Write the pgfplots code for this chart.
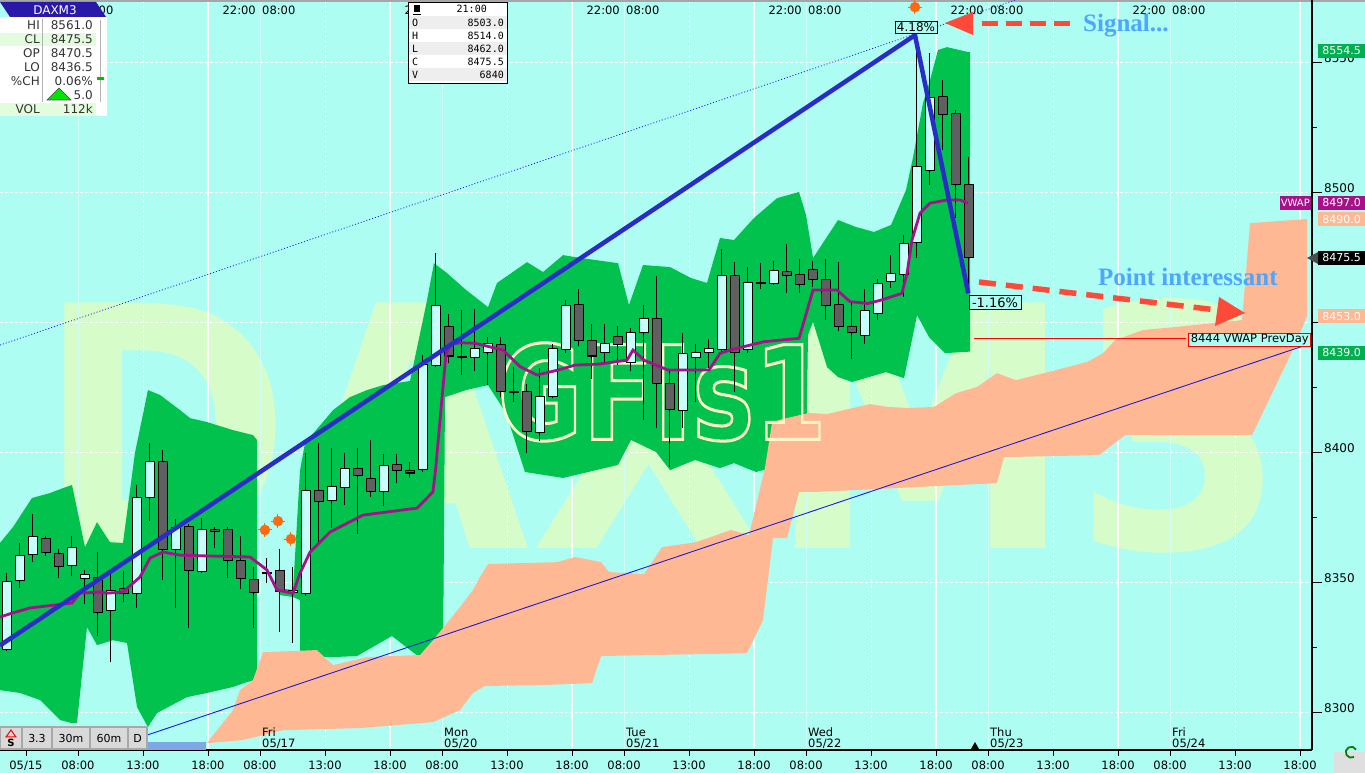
\documentclass[border=0pt]{standalone}
\usepackage{fontspec}
\setmainfont{DejaVu Sans}
\newfontfamily\serifann{Liberation Serif}
\newfontfamily\monobox{DejaVu Sans Mono}
\usepackage{graphicx}
\usepackage{pgfplots}
\usepackage{pgfplotstable}
\pgfplotsset{compat=1.18}

\definecolor{bgcyan}{HTML}{AEFDF3}
\definecolor{bandgreen}{HTML}{00C24D}
\definecolor{cloud}{HTML}{FFB894}
\definecolor{wmark}{HTML}{D6FDC9}
\definecolor{upfill}{HTML}{C8FFFA}
\definecolor{dnfill}{HTML}{606060}
\definecolor{vwapc}{HTML}{A8108A}
\definecolor{trendblue}{HTML}{2B2BC8}
\definecolor{thinblue}{HTML}{1A1AE0}
\definecolor{sigred}{HTML}{FF4A3A}
\definecolor{anncol}{HTML}{4DA6FF}
\definecolor{dotorange}{HTML}{FF6A10}
\definecolor{gfis}{HTML}{FFF6C8}
\definecolor{tagreen}{HTML}{00B050}
\definecolor{hdrblue}{HTML}{2A18A8}
\definecolor{btngray}{HTML}{D9D9D9}
\definecolor{btnborder}{HTML}{A8A8A8}
\definecolor{rowgreen}{HTML}{E4FCDE}
\definecolor{rowgray}{HTML}{EEEEEE}
\definecolor{lightbar}{HTML}{7EA8E4}

\newcommand\fs[1]{\fontsize{#1}{#1}\selectfont}

% 1 bar = 1 hour, x = hours since 05/15 08:00 (sessions 08:00-22:00 only)
\pgfplotstableread{
x o h l c
-5.5 8324.5 8354 8324 8350.5
-4.5 8351 8365.5 8348 8360.5
-3.5 8361 8376.5 8358 8367.5
-0.5 8357 8368 8352.5 8363.5
0.5 8352 8355 8342 8353
2.5 8339.5 8353.5 8319.5 8347
4.5 8346 8387.5 8340.5 8382.5
5.5 8383 8404 8374 8396.5
7.5 8363 8374.5 8340.5 8371
9.5 8354.5 8375 8354 8370.5
14.5 8354 8359.5 8350 8354
16.5 8346.5 8356 8327 8347
17.5 8346 8400 8345 8385.5
19.5 8382 8402 8371 8387
20.5 8387 8400 8380 8394
23.5 8385.5 8399.5 8379.5 8395
26.5 8394 8437.5 8392.5 8434
27.5 8434 8477 8433 8456.5
29.5 8437 8455 8430 8437
30.5 8437 8455.5 8431.5 8440
31.5 8439 8444.5 8426 8442
33.5 8423.5 8433 8419.5 8423.5
35.5 8408 8432.5 8404.5 8421.5
36.5 8422 8442 8421 8440
37.5 8440 8459 8438.5 8456.5
40.5 8439 8449.5 8434.5 8442
42.5 8435 8448 8431.5 8446
43.5 8446.5 8457 8412.5 8451.5
46.5 8416.5 8446 8409.5 8438
47.5 8437 8442 8419.5 8438.5
48.5 8439 8444 8432.5 8440
49.5 8440 8478.5 8439 8468
51.5 8440 8471.5 8438.5 8465.5
52.5 8465.5 8473 8463 8465.5
53.5 8465.5 8474 8464.5 8470
60.5 8445.5 8463 8442 8454.5
61.5 8454 8467 8451 8465
62.5 8466 8476 8463.5 8469
63.5 8469 8484 8460 8480.5
64.5 8481 8561 8475 8510
65.5 8509 8554 8503 8536.5
}\upc

\pgfplotstableread{
x o h l c
-2.5 8367 8368 8360.5 8362
-1.5 8361 8363 8352 8356.5
1.5 8352 8362 8329.5 8339
3.5 8347.5 8354.5 8342.5 8346
6.5 8396.5 8401 8351 8363
8.5 8371.5 8372.5 8332.5 8355
10.5 8370.5 8371.5 8363.5 8370
11.5 8370.5 8371.5 8352 8359
12.5 8358.5 8368 8347.5 8352
13.5 8351 8356 8332.5 8346.5
15.5 8354.5 8363 8331 8347
18.5 8385.5 8404 8364.5 8381.5
21.5 8394 8402 8369 8391.5
22.5 8390 8405 8383 8385.5
24.5 8395.5 8399.5 8388.5 8393.5
25.5 8393 8396.5 8390.5 8392.5
28.5 8448.5 8453.5 8434.5 8437.5
32.5 8441.5 8444.5 8421.5 8424
34.5 8423.5 8426.5 8400 8408.5
38.5 8457 8463 8441 8443.5
39.5 8443 8449.5 8428.5 8437.5
41.5 8444.5 8449 8434 8442
44.5 8451.5 8468 8409.5 8427
45.5 8426.5 8431.5 8394.5 8417
50.5 8468 8473.5 8423.5 8439
54.5 8469.5 8480.5 8461.5 8468.5
55.5 8468.5 8474.5 8461.5 8465
56.5 8470.5 8474 8464 8467
57.5 8466.5 8474.5 8451 8457
58.5 8457 8473.5 8447 8449
59.5 8448.5 8458 8436 8446.5
66.5 8537 8543.5 8516.5 8530.5
67.5 8530.5 8532 8490.5 8503.5
68.5 8503 8514 8462 8475.5
}\dnc

\pgfplotsset{
  chartaxis/.style={
    at={(0pt,23pt)}, anchor=south west,
    width=1312pt, height=750pt, scale only axis,
    xmin=-6, xmax=94.923, ymin=8285.77, ymax=8574.23,
  },
}
\tikzset{px/.style={x=1pt, y=-1pt, yshift=773pt}}

\begin{document}
\begin{tikzpicture}

% ---------- background, watermark, grid ----------
\begin{scope}[px]
  \fill[bgcyan] (0,0) rectangle (1365,773);
  \node[anchor=north west, inner sep=0pt, text=wmark] at (36,298)
    {\resizebox{1251pt}{250pt}{\bfseries DAXM3}};
  \foreach \yy in {63,193,323,453,583,713}
    \draw[white, line width=1pt, dash pattern=on 3pt off 2pt] (0,\yy) -- (1312,\yy);
  \foreach \k in {0,...,6}{
    \draw[white!45!bgcyan, line width=1pt] ({78+182*\k},0) -- ({78+182*\k},750);
    \draw[white, line width=1pt, dash pattern=on 3pt off 2pt] ({143+182*\k},0) -- ({143+182*\k},750);
    \draw[white, line width=1.2pt] ({208+182*\k},0) -- ({208+182*\k},750);
  }
  \fill[gray!70] (0,0) rectangle (1365,2);
\end{scope}

% ---------- band and cloud ----------
\begin{axis}[chartaxis, hide axis]
\addplot[fill=bandgreen, draw=none] coordinates {
(-6,8365.4) (-5,8371.5) (-3.54,8382.7) (-2.15,8384.6) (-1.15,8386.5) (-0.46,8387.7)
(0.54,8363.8) (1.46,8373.4) (2.46,8365.7) (3.46,8365.4) (4.38,8400) (5.38,8424.2)
(6.31,8422.3) (7.85,8416.5) (8.62,8413.4) (9.92,8411.9) (11.92,8408.8) (13.46,8406.9)
(13.77,8405) (13.77,8312.7) (13,8311.9) (11.92,8310) (9.92,8307.7) (8.38,8306.1)
(6.08,8300) (5.38,8294.6) (4.54,8302.3) (3.77,8326.9) (2.69,8328) (1.46,8326.1)
(0.69,8333) (-0.08,8296.1) (-0.46,8296.1) (-1.38,8297.3) (-2.92,8305) (-4.46,8307.7)
(-6,8308.8)
};
\addplot[fill=bandgreen, draw=none] coordinates {
(15.46,8348) (16.54,8347.3) (17.08,8393.4) (17.46,8403.8) (19.62,8416.5) (20.92,8421.5)
(22.23,8424.2) (23.46,8426.1) (25.54,8427.7) (26.85,8458.8) (27.38,8473) (28.38,8469.2)
(29.85,8462.7) (31.54,8456.1) (32.23,8465.4) (34.54,8473.4) (35.77,8469.6) (37.31,8476.1)
(38.69,8475) (41.54,8473) (42.38,8456.9) (43.46,8472.3) (45.54,8471.5) (47.15,8467.3)
(48.38,8465.4) (49.38,8482.7) (50.46,8481.9) (52,8490.4) (53.77,8498) (55.46,8500.4)
(56,8491.5) (56.54,8475) (58.46,8489.6) (59.85,8486.9) (61.23,8485) (62.54,8487.7)
(63.69,8501.1) (64.23,8513.8) (65,8534.6) (65.54,8543.4) (66.15,8555) (66.85,8556.1)
(68.46,8554.2) (68.62,8554.2)
(68.62,8439) (66.69,8438.4) (65.46,8444.6) (64.54,8453) (63.54,8428.8) (62.15,8431.1)
(59.54,8427.3) (58.46,8429.2) (57.62,8433) (56.54,8450.4) (56.15,8445.4) (56,8392.7)
(52.69,8393.4) (52.15,8392.7) (50.46,8396.1) (49.38,8394.2) (47.46,8397.3) (45.54,8393.4)
(44.46,8400.4) (42.54,8405) (41.54,8395.4) (37.31,8390.4) (34.38,8392.7) (32.92,8415.4)
(31.54,8426.1) (29.85,8424.2) (28.23,8421.5) (28.08,8322.3) (27.46,8321.9) (26.15,8321.9)
(24.15,8329.6) (21.46,8321.9) (19.62,8321.5) (17.08,8321.9) (17.08,8343.4) (16.54,8344.6)
(15.46,8345.4)
};
\addplot[fill=cloud, draw=none] coordinates {
(9.92,8288.4) (11.92,8301.1) (12.46,8308.8) (13.46,8312.7) (14.23,8323.4) (18.38,8324.2)
(19.62,8318.4) (22.23,8321.5) (26.31,8322.3) (27.31,8328) (29.38,8340.7) (30.38,8347.3)
(30.92,8352.3) (31.54,8357.3) (36.85,8358) (38.23,8360) (40.23,8358) (40.85,8354.2)
(43.54,8353.4) (44.92,8363.8) (47.54,8365.7) (50.23,8370.4) (51.62,8368.4) (52.85,8394.6)
(53.38,8411.5) (53.92,8412.7) (56.23,8415.4) (57.62,8415) (60.92,8418.8) (62.31,8417.7)
(63.92,8417.3) (65.85,8417.7) (67.54,8423) (69.15,8425.4) (70.69,8430.7) (72.15,8428)
(74.62,8431.1) (77.62,8435) (78.85,8438.4) (79.77,8443.4) (81.92,8447.3) (84.31,8448.4)
(89.54,8451.1) (90.15,8488.4) (94.54,8490)
(94.54,8452.7) (93.62,8441.5) (90.31,8406.9) (80.54,8406.9) (78.54,8399.2) (71.23,8398.4)
(70.69,8388.4) (56.69,8385) (55.46,8385) (54.54,8367.3) (53.46,8367.3) (52.69,8335.7)
(51.46,8323) (40.23,8321.9) (39.54,8311.5) (35.54,8310.7) (31.31,8310.4) (30.38,8307.7)
(29.38,8301.1) (27.31,8296.5) (21.69,8294.2) (15.77,8293.4) (12.69,8289.6)
};
\end{axis}

% ---------- outlined GFIs1 watermark (stroked text) ----------
\begin{scope}[px]
  \node[inner sep=0pt, text=gfis] at (662,392)
    {\scalebox{0.8}[1]{\fs{130}\bfseries\special{pdf:code q 1 Tr 3 w}GFIs1\special{pdf:code Q}}};
\end{scope}

% ---------- price axis ----------
\begin{axis}[chartaxis,
  axis x line*=bottom, axis y line*=right,
  x axis line style={-, line width=2pt},
  y axis line style={-, line width=1.3pt},
  xtick={-4,0,5,10,14,19,24,28,33,38,42,47,52,56,61,66,70,75,80,84,89,94},
  xticklabels={},
  xtick align=outside,
  ytick={8300,8350,8400,8450,8500,8550},
  yticklabels={},
  minor ytick={8325,8375,8425,8475,8525},
  ytick align=outside,
  x tick style={black, line width=1pt, /pgfplots/major tick length=6pt},
  y tick style={black, line width=1pt, /pgfplots/major tick length=10pt,
    /pgfplots/minor tick length=5pt},
]
% wicks
\addplot[draw=none, mark=none, error bars/.cd, y dir=plus, y explicit, error mark=none,
  error bar style={draw=black, line width=1pt}]
  table[x=x, y=l, y error expr=\thisrow{h}-\thisrow{l}] {\upc};
\addplot[draw=none, mark=none, error bars/.cd, y dir=plus, y explicit, error mark=none,
  error bar style={draw=black, line width=1pt}]
  table[x=x, y=l, y error expr=\thisrow{h}-\thisrow{l}] {\dnc};
% bodies: black outline then fill
\addplot[draw=none, mark=none, error bars/.cd, y dir=plus, y explicit, error mark=none,
  error bar style={draw=black, line width=10pt}]
  table[x=x, y expr=\thisrow{o}-0.4, y error expr=\thisrow{c}-\thisrow{o}+0.8] {\upc};
\addplot[draw=none, mark=none, error bars/.cd, y dir=plus, y explicit, error mark=none,
  error bar style={draw=upfill, line width=8pt}]
  table[x=x, y=o, y error expr=\thisrow{c}-\thisrow{o}] {\upc};
\addplot[draw=none, mark=none, error bars/.cd, y dir=plus, y explicit, error mark=none,
  error bar style={draw=black, line width=10pt}]
  table[x=x, y expr=\thisrow{c}-0.4, y error expr=\thisrow{o}-\thisrow{c}+0.8] {\dnc};
\addplot[draw=none, mark=none, error bars/.cd, y dir=plus, y explicit, error mark=none,
  error bar style={draw=dnfill, line width=8pt}]
  table[x=x, y=c, y error expr=\thisrow{o}-\thisrow{c}] {\dnc};

% VWAP
\addplot[vwapc, line width=2.8pt] coordinates {
(-6,8336.9) (-5.08,8338.4) (-3.69,8340.4) (-0.46,8342.3) (0.15,8346.1) (1.69,8346.5)
(2.23,8346.1) (3.46,8346.5) (4.77,8352.3) (5.54,8359.6) (6.54,8361.9) (7.85,8360.7)
(9.92,8360.4) (13.23,8360) (14.54,8355) (15.31,8347.3) (16.54,8346.1) (17.08,8353.8)
(17.85,8361.9) (19.38,8369.6) (21.92,8376.1) (26.08,8378.8) (27.3,8385) (27.5,8393.4)
(28.31,8438.3) (28.69,8441.9) (29.46,8442.4) (30.54,8442.2) (32.69,8439.6) (34,8433.2)
(35.31,8430) (36.92,8431.9) (38.23,8433.8) (40.08,8434.2) (42.23,8435.7) (42.69,8439.6)
(43.54,8435.7) (45.38,8431.9) (48.54,8431.9) (49.38,8438.3) (50.15,8439.6) (52.77,8442.8)
(55.46,8444.1) (56.54,8462.7) (58.38,8462.7) (59.38,8458.2) (60.77,8457.5) (61.77,8458.8)
(63.38,8461.4) (63.77,8469.1) (64.15,8481.9) (64.77,8492.3) (65.54,8496.1) (66.85,8497.3)
(67.85,8497.3) (68.46,8496.1)
};
% trend lines
\addplot[thinblue, line width=0.8pt, dash pattern=on 1pt off 2pt] coordinates {(-6,8441.5) (72.08,8574.2)};
\addplot[thinblue, line width=0.9pt] coordinates {(4,8289.3) (94.92,8442.3)};
\addplot[trendblue, line width=4.5pt] coordinates {(-6,8326) (64.38,8560.7) (68.48,8461.4)};
% previous-day VWAP level
\addplot[red, line width=0.8pt] coordinates {(68.92,8444) (85.2,8444)};
% signal dots
\addplot[only marks, mark=*, mark size=5pt, dotorange] coordinates {(14.38,8370.4) (15.38,8373.8) (16.38,8366.9) (64.38,8571.5)};
\addplot[only marks, mark=+, mark size=7pt, dotorange, line width=1pt] coordinates {(14.38,8370.4) (15.38,8373.8) (16.38,8366.9) (64.38,8571.5)};
\end{axis}

% ---------- texts and panels ----------
\begin{scope}[px]
  % tick labels
  \node[font=\fs{11.5}, anchor=base, inner sep=0pt] at (26,770) {05/15};
  \foreach \k in {0,...,6}{
    \node[font=\fs{11.5}, anchor=base, inner sep=0pt] at ({78+182*\k},770) {08:00};
    \node[font=\fs{11.5}, anchor=base, inner sep=0pt] at ({143+182*\k},770) {13:00};
    \node[font=\fs{11.5}, anchor=base, inner sep=0pt] at ({208+182*\k},770) {18:00};
  }
  % session separators along the top (first ones partly hidden by the panels)
  \node[font=\fs{11.5}, anchor=west, inner sep=0pt] at (80,10) {08:00};
  \node[font=\fs{11.5}, anchor=east, inner sep=0pt] at (438,10) {22:00};
  \foreach \b in {260,624,806,988,1170}{
    \node[font=\fs{11.5}, anchor=east, inner sep=0pt] at (\b-4,10) {22:00};
    \node[font=\fs{11.5}, anchor=west, inner sep=0pt] at (\b+2,10) {08:00};
  }
  \foreach \v/\yy in {8300/713,8350/583,8400/453,8450/323,8500/193,8550/63}
    \node[font=\fs{12}, anchor=base west, inner sep=0pt] at (1324,\yy) {\v};
  % day labels
  \node[font=\fs{11.5}, anchor=base west, inner sep=0pt] at (262,737) {Fri};
  \node[font=\fs{11.5}, anchor=base west, inner sep=0pt] at (262,748) {05/17};
  \node[font=\fs{11.5}, anchor=base west, inner sep=0pt] at (444,737) {Mon};
  \node[font=\fs{11.5}, anchor=base west, inner sep=0pt] at (444,748) {05/20};
  \node[font=\fs{11.5}, anchor=base west, inner sep=0pt] at (626,737) {Tue};
  \node[font=\fs{11.5}, anchor=base west, inner sep=0pt] at (626,748) {05/21};
  \node[font=\fs{11.5}, anchor=base west, inner sep=0pt] at (808,737) {Wed};
  \node[font=\fs{11.5}, anchor=base west, inner sep=0pt] at (808,748) {05/22};
  \node[font=\fs{11.5}, anchor=base west, inner sep=0pt] at (990,737) {Thu};
  \node[font=\fs{11.5}, anchor=base west, inner sep=0pt] at (990,748) {05/23};
  \node[font=\fs{11.5}, anchor=base west, inner sep=0pt] at (1172,737) {Fri};
  \node[font=\fs{11.5}, anchor=base west, inner sep=0pt] at (1172,748) {05/24};
  \fill[black] (971,749) -- (975,742) -- (979,749) -- cycle;

  % right value tags
  \tikzset{tag/.style={inner sep=0pt, minimum width=47pt, minimum height=14pt,
    anchor=west, text=white, font=\fs{11}}}
  \node[tag, fill=tagreen] at (1318,51) {8554.5};
  \node[tag, fill=vwapc] at (1318,203) {8497.0};
  \node[tag, fill=vwapc, minimum width=31pt, anchor=east, font=\fs{10}] at (1311,203) {VWAP};
  \node[tag, fill=cloud] at (1318,219.5) {8490.0};
  \node[tag, fill=black] at (1318,258) {8475.5};
  \fill[black!70] (1307,258) -- (1318,252) -- (1318,264) -- cycle;
  \node[tag, fill=cloud] at (1318,316.5) {8453.0};
  \node[tag, fill=tagreen] at (1318,353) {8439.0};

  % chart annotations
  \node[draw=red, line width=0.8pt, fill=bgcyan, inner xsep=2pt, inner ysep=1pt,
    font=\fs{11.5}, anchor=east] at (1311,339.5) {8444 VWAP PrevDay};
  \node[draw=black, line width=0.8pt, fill=bgcyan, inner xsep=2pt, inner ysep=1.5pt,
    font=\fs{12}] at (916,27) {4.18\%};
  \node[draw=black, line width=0.8pt, fill=bgcyan, inner xsep=3pt, inner ysep=2pt,
    font=\fs{13}] at (995,302.5) {-1.16\%};
  \draw[sigred, line width=5pt, dash pattern=on 16pt off 8pt] (982,24) -- (1072,24);
  \fill[sigred] (945,23) -- (973,12) -- (973,35) -- cycle;
  \draw[sigred, line width=5.5pt, dash pattern=on 17pt off 10pt] (979,282) -- (1217,310);
  \fill[sigred] (1245,313) -- (1219,297) -- (1215,326) -- cycle;
  \node[anchor=base west, inner sep=0pt, text=anncol, font=\serifann\bfseries\fs{25}]
    at (1083,32) {Signal...};
  \node[anchor=base west, inner sep=0pt, text=anncol, font=\serifann\bfseries\fs{25}]
    at (1098,286) {Point interessant};

  % quote panel (top left)
  \fill[hdrblue] (0,2) -- (96,2) -- (106,17) -- (10,17) -- cycle;
  \node[text=white, font=\fs{12}, inner sep=0pt] at (55,10) {DAXM3};
  \fill[white] (0,17) rectangle (107,116);
  \fill[rowgreen] (0,33) rectangle (96,46);
  \fill[rowgreen] (0,103) rectangle (96,116);
  \draw[gray!60, line width=1pt] (42,19) -- (42,102);
  \draw[gray!60, line width=1pt] (100,20) -- (100,102);
  \fill[green!75!black] (97,77) rectangle (104,80);
  \tikzset{lab/.style={anchor=base east, inner sep=0pt, font=\fs{12}, text=black!80}}
  \node[lab] at (40,30) {HI};   \node[lab] at (93,30) {8561.0};
  \node[lab] at (40,44) {CL};   \node[lab] at (93,44) {8475.5};
  \node[lab] at (40,58) {OP};   \node[lab] at (93,58) {8470.5};
  \node[lab] at (40,72) {LO};   \node[lab] at (93,72) {8436.5};
  \node[lab] at (40,86) {\%CH}; \node[lab] at (93,86) {0.06\%};
  \node[lab] at (93,100) {5.0};
  \node[lab] at (40,114) {VOL}; \node[lab] at (93,114) {112k};
  \filldraw[fill=green!90!black, draw=black!70, line width=0.6pt] (47,100) -- (59,88) -- (71,100) -- cycle;

  % OHLC panel
  \fill[white] (408,3) rectangle (507,84);
  \fill[rowgray] (408,16) rectangle (507,29);
  \fill[rowgray] (408,42) rectangle (507,55);
  \fill[rowgray] (408,68) rectangle (507,81);
  \draw[black, line width=1pt] (408,3) rectangle (507,84);
  \fill[black] (414,5) rectangle (420,12);
  \draw[black, line width=0.8pt] (413,14) -- (421,14);
  \tikzset{ob/.style={inner sep=0pt, font=\monobox\fs{10}}}
  \node[ob, anchor=east] at (487,9) {21:00};
  \node[ob, anchor=west] at (412,22.5) {O}; \node[ob, anchor=east] at (504,22.5) {8503.0};
  \node[ob, anchor=west] at (412,35.5) {H}; \node[ob, anchor=east] at (504,35.5) {8514.0};
  \node[ob, anchor=west] at (412,48.5) {L}; \node[ob, anchor=east] at (504,48.5) {8462.0};
  \node[ob, anchor=west] at (412,61.5) {C}; \node[ob, anchor=east] at (504,61.5) {8475.5};
  \node[ob, anchor=west] at (412,74.5) {V}; \node[ob, anchor=east] at (504,74.5) {6840};

  % buttons bottom left
  \fill[lightbar] (147,742) rectangle (206,750);
  \draw[fill=btngray, draw=btnborder, line width=1.2pt] (0,727) rectangle (22,749);
  \draw[red, line width=1pt] (6,737) -- (11,730) -- (16,737) -- cycle;
  \node[font=\bfseries\fs{10}, inner sep=0pt] at (11,743) {S};
  \foreach \a/\b/\t in {22/52/3.3, 52/90/30m, 90/128/60m, 128/147/D}{
    \draw[fill=btngray, draw=btnborder, line width=1.2pt] (\a,727) rectangle (\b,749);
    \node[font=\fs{11}, inner sep=0pt] at ({(\a+\b)/2},738) {\t};
  }
  % refresh button
  \fill[gray!25] (1334,752) rectangle (1365,773);
  \draw[green!50!black, line width=1.8pt] (1354,757) arc (60:330:5.5);
\end{scope}

\pgfresetboundingbox
\path[px] (0,0) rectangle (1365,773);
\end{tikzpicture}
\end{document}
